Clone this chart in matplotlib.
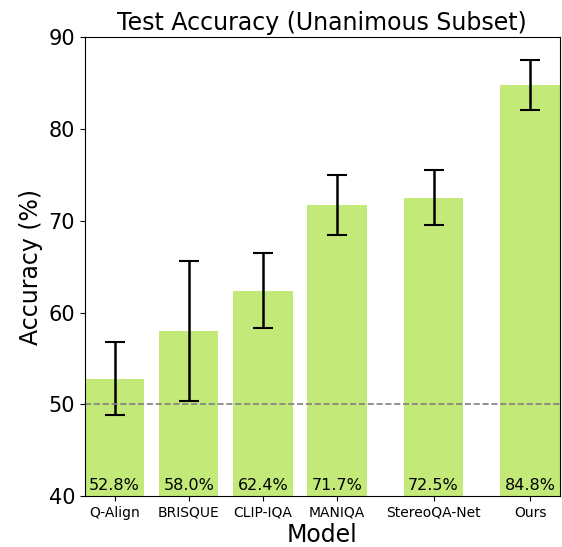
import matplotlib.pyplot as plt

# data
models = ["Q-Align", "BRISQUE", "CLIP-IQA", "MANIQA", "StereoQA-Net", "Ours"]
positions = [0, 1, 2, 3, 4.3, 5.6]
accuracy = [52.8, 58.0, 62.4, 71.7, 72.5, 84.8]
errors = [4.0, 7.6, 4.1, 3.3, 3.0, 2.7]
y_ticks = [40, 50, 60, 70, 80, 90]


def main():
    fig = plt.figure(figsize=(5.62, 5.47), dpi=100)
    ax = fig.add_axes([0.151, 0.093, 0.845, 0.839])

    ax.bar(positions, accuracy, width=0.8, color="#c3ea78",
           yerr=errors, capsize=7,
           error_kw=dict(ecolor="black", elinewidth=1.8, capthick=1.5))

    # chance level
    ax.axhline(50, color="gray", linestyle="--", linewidth=1.2)

    for x, v in zip(positions, accuracy):
        ax.text(x, 40.3, f"{v:.1f}%", ha="center", va="bottom", fontsize=11.5)

    ax.set_xlim(-0.4, 6.0)
    ax.set_ylim(40, 90)
    ax.set_xticks(positions)
    ax.set_xticklabels(models, fontsize=10)
    ax.set_yticks(y_ticks)
    ax.tick_params(axis="y", labelsize=15)
    ax.set_xlabel("Model", fontsize=17, labelpad=2)
    ax.set_ylabel("Accuracy (%)", fontsize=17)
    ax.set_title("Test Accuracy (Unanimous Subset)", fontsize=17, pad=5)

    fig.savefig("out.png", dpi=100)


if __name__ == "__main__":
    main()
